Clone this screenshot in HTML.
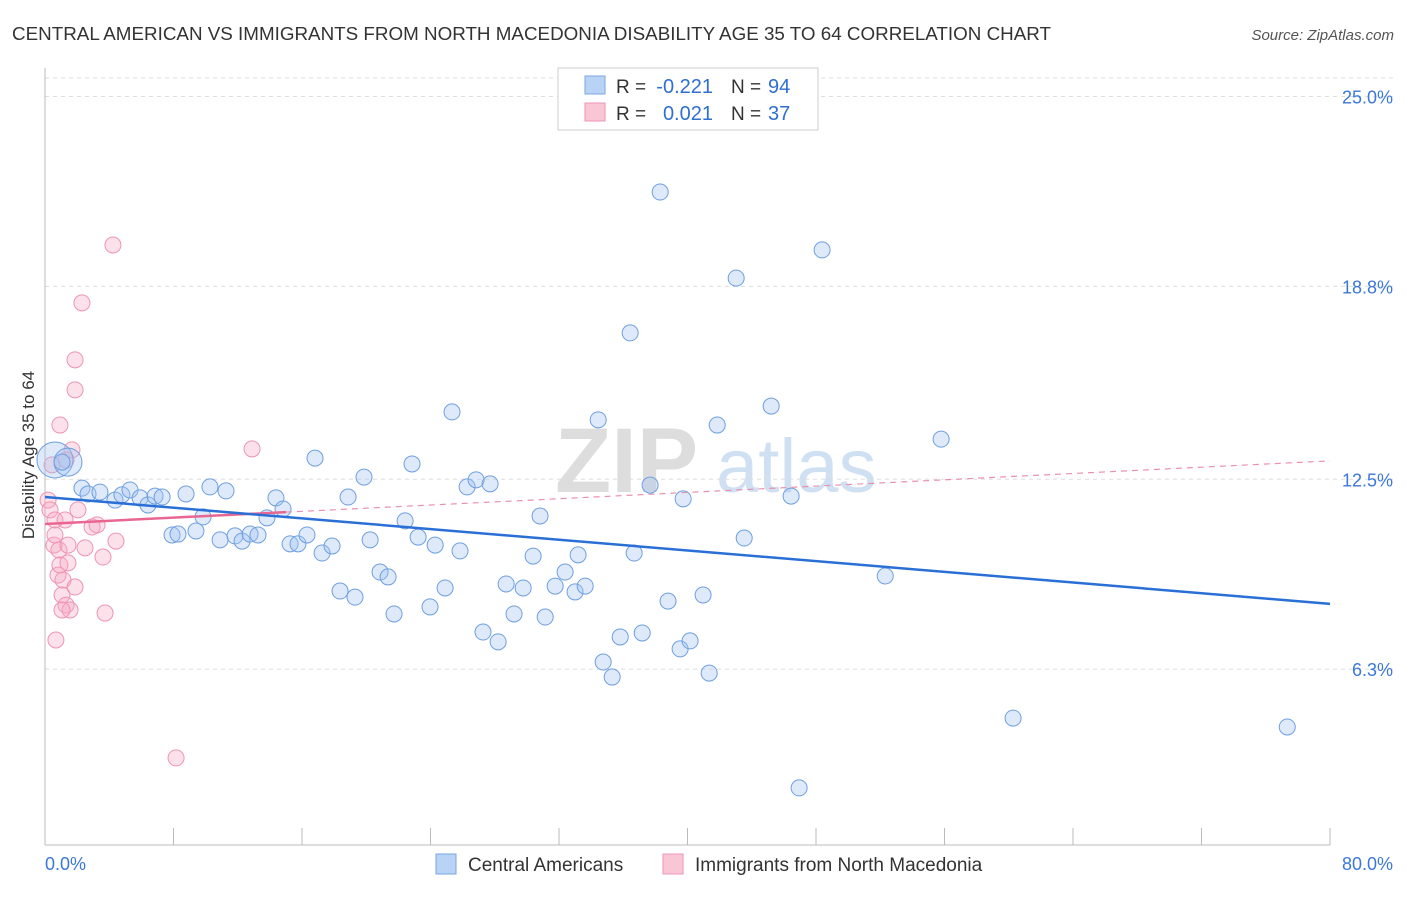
<!DOCTYPE html>
<html><head><meta charset="utf-8">
<style>
body{margin:0;background:#fff;font-family:"Liberation Sans",sans-serif;}
svg text{font-family:"Liberation Sans",sans-serif;}
</style></head>
<body>
<svg id="chart" width="1406" height="892" viewBox="0 0 1406 892" xmlns="http://www.w3.org/2000/svg">
<text x="12" y="40" font-size="18.5" fill="#333" textLength="1039" lengthAdjust="spacingAndGlyphs">CENTRAL AMERICAN VS IMMIGRANTS FROM NORTH MACEDONIA DISABILITY AGE 35 TO 64 CORRELATION CHART</text>
<text x="1394" y="40" font-size="15" fill="#555" font-style="italic" text-anchor="end">Source: ZipAtlas.com</text>
<text x="34" y="455" font-size="17" fill="#333" text-anchor="middle" transform="rotate(-90 34 455)">Disability Age 35 to 64</text>
<g>
<text x="555" y="492" font-size="92" fill="#ddd" font-family="Liberation Serif" font-weight="bold">ZIP</text>
<text x="716" y="492" font-size="76" fill="#cfe0f3">atlas</text>
</g>
<g id="grid"></g>
<g id="axes"></g>
<g id="marks"></g>
<g>
<rect x="558" y="68" width="260" height="62" fill="#fff" stroke="#ccc"/>
<rect x="585" y="76" width="20" height="18" fill="#b8d3f5" stroke="#7aa7e0"/>
<rect x="585" y="103" width="20" height="18" fill="#f9c6d6" stroke="#ee94b2"/>
<text x="616" y="93" font-size="19" fill="#333">R =</text>
<text x="713" y="93" font-size="20" fill="#2f6fd0" text-anchor="end">-0.221</text>
<text x="731" y="93" font-size="19" fill="#333">N =</text>
<text x="768" y="93" font-size="20" fill="#2f6fd0">94</text>
<text x="616" y="120" font-size="19" fill="#333">R =</text>
<text x="713" y="120" font-size="20" fill="#2f6fd0" text-anchor="end">0.021</text>
<text x="731" y="120" font-size="19" fill="#333">N =</text>
<text x="768" y="120" font-size="20" fill="#2f6fd0">37</text>
</g>
<g>
<rect x="436" y="854" width="20" height="20" fill="#b8d3f5" stroke="#7aa7e0"/>
<text x="468" y="871" font-size="19" fill="#333">Central Americans</text>
<rect x="663" y="854" width="20" height="20" fill="#f9c6d6" stroke="#ee94b2"/>
<text x="695" y="871" font-size="19" fill="#333">Immigrants from North Macedonia</text>
</g>
</svg>
<script>
const yTicks=[25.0,18.8,12.5,6.3];
const yTickLabels=["25.0%","18.8%","12.5%","6.3%"];
const xTickLabels=["0.0%","80.0%"];
const blueX=[0.62,1.43,1.06,2.30,2.68,3.42,4.36,4.79,5.29,5.92,6.41,6.85,7.29,7.91,8.28,8.78,9.40,9.84,10.27,10.90,11.27,11.83,12.27,12.77,13.26,13.82,14.38,14.82,15.26,15.75,16.31,16.81,17.25,17.87,18.37,18.87,19.30,19.86,20.24,20.86,21.36,21.73,22.42,22.85,23.23,23.97,24.29,24.91,25.34,25.84,26.28,26.84,27.27,27.71,28.21,28.71,29.20,29.77,30.39,30.82,31.14,31.76,32.38,33.00,33.19,33.63,34.44,34.75,35.31,35.81,36.43,36.68,37.18,37.67,38.30,38.79,39.54,39.73,40.16,40.97,41.35,41.85,43.03,43.53,45.21,46.45,46.95,48.38,52.31,55.79,60.27,77.34];
const blueY=[13.13,13.06,13.06,12.21,12.02,12.08,11.82,11.99,12.15,11.89,11.66,11.95,11.92,10.68,10.71,12.02,10.81,11.27,12.25,10.52,12.12,10.65,10.48,10.71,10.68,11.24,11.89,11.53,10.39,10.39,10.68,13.19,10.09,10.32,8.85,11.92,8.65,12.57,10.52,9.47,9.31,8.10,11.14,13.00,10.61,8.33,10.35,8.95,14.70,10.16,12.25,12.48,7.51,12.35,7.19,9.08,8.10,8.95,9.99,11.30,8.00,9.01,9.47,8.82,10.03,9.01,14.44,6.53,6.04,7.35,17.28,10.09,7.48,12.31,21.88,8.52,6.96,11.86,7.22,8.72,6.17,14.27,19.07,10.58,14.89,11.95,2.42,19.99,9.34,13.81,4.70,4.41];
const pinkX=[0.19,0.31,0.44,0.56,0.62,0.62,0.81,0.68,0.87,0.93,1.06,1.12,1.25,1.31,1.43,1.43,1.56,1.68,1.87,1.87,2.05,2.30,2.49,2.93,3.24,3.61,3.74,4.23,4.42,8.16,12.89,0.93,1.31,1.87,1.06];
const pinkY=[11.82,11.50,12.97,10.35,11.17,10.68,9.37,7.25,10.19,9.70,8.72,9.21,11.17,8.39,10.35,9.77,8.23,13.46,15.42,16.40,11.50,18.26,10.26,10.94,11.01,9.96,8.13,20.15,10.48,3.40,13.49,14.27,13.13,8.98,8.23];
const blueTrend=[11.92,8.43];
const pinkTrend=[11.04,13.10];
const NS="http://www.w3.org/2000/svg";
const X0=45,X1=1330,Y0=862,PPY=30.62;
function sx(v){return X0+(X1-X0)*v/80;}
function sy(v){return Y0-v*PPY;}
function mk(tag,attrs,parent){const e=document.createElementNS(NS,tag);for(const k in attrs)e.setAttribute(k,attrs[k]);parent.appendChild(e);return e;}
const grid=document.getElementById('grid'),axes=document.getElementById('axes'),marks=document.getElementById('marks');
yTicks.forEach((t,i)=>{
 const g=mk('line',{x1:X0,x2:1394,y1:sy(t),y2:sy(t),stroke:'#ddd','stroke-dasharray':'4,4'},grid);
 
 
 const tx=mk('text',{x:1393,y:sy(t)+7,'font-size':18,fill:'#3b78d8','text-anchor':'end'},axes);
 tx.textContent=yTickLabels[i];
 
 
});
mk('line',{x1:X0,x2:1394,y1:78,y2:78,stroke:'#ddd','stroke-dasharray':'4,4'},grid);
mk('line',{x1:X0,x2:X0,y1:68,y2:845,stroke:'#bbb'},axes);
mk('line',{x1:X0,x2:X1,y1:845,y2:845,stroke:'#bbb'},axes);
for(let i=0;i<=10;i++){const x=X0+(X1-X0)*i/10;mk('line',{x1:x,x2:x,y1:828,y2:845,stroke:'#bbb'},axes);}
const xl0=mk('text',{x:45,y:870,'font-size':18,fill:'#3b78d8'},axes);xl0.textContent=xTickLabels[0];


const xl1=mk('text',{x:1393,y:870,'font-size':18,fill:'#3b78d8','text-anchor':'end'},axes);xl1.textContent=xTickLabels[1];


pinkX.forEach((x,i)=>{
 const c=mk('circle',{cx:sx(x),cy:sy(pinkY[i]),r:8,fill:'rgba(246,170,196,0.35)',stroke:'#ee94b2','stroke-width':1},marks);
 
 
});
blueX.forEach((x,i)=>{
 const r=i===0?18:(i===1?14:8);
 const c=mk('circle',{cx:sx(x),cy:sy(blueY[i]),r:r,fill:'rgba(160,195,240,0.35)',stroke:'#6e9fe0','stroke-width':1},marks);
 
 
});
const pd=mk('line',{x1:sx(15),y1:sy(pinkTrend[0]+(pinkTrend[1]-pinkTrend[0])*15/80),x2:sx(80),y2:sy(pinkTrend[1]),stroke:'#ea8fb0','stroke-width':1.2,'stroke-dasharray':'6,5'},marks);


const ps=mk('line',{x1:sx(0),y1:sy(pinkTrend[0]),x2:sx(15),y2:sy(pinkTrend[0]+(pinkTrend[1]-pinkTrend[0])*15/80),stroke:'#e8668f','stroke-width':2.5},marks);


const bl=mk('line',{x1:sx(0),y1:sy(blueTrend[0]),x2:sx(80),y2:sy(blueTrend[1]),stroke:'#2a6fd6','stroke-width':2.5},marks);


</script>
</body></html>
